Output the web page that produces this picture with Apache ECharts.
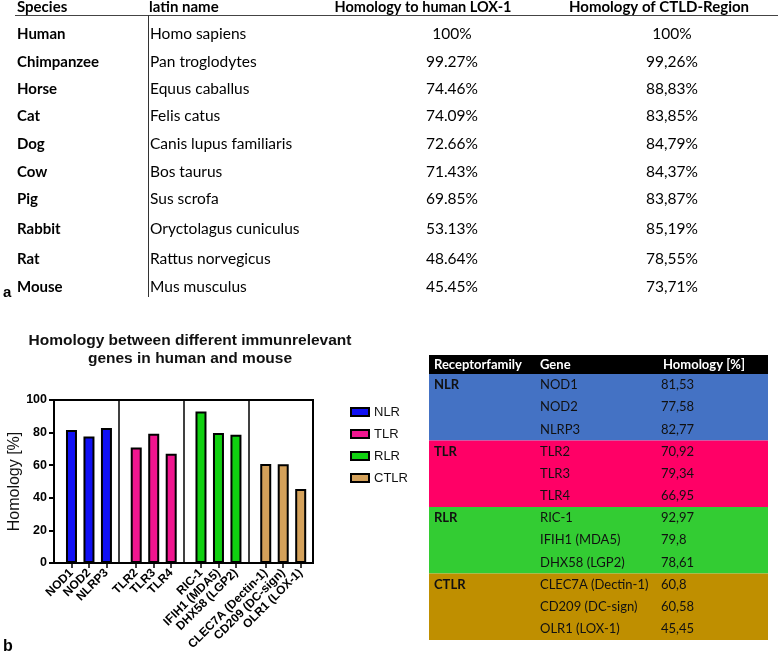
<!DOCTYPE html>
<html><head><meta charset="utf-8">
<script src="https://cdn.jsdelivr.net/npm/echarts@6/dist/echarts.min.js"></script>
<style>html,body{margin:0;padding:0;background:#fff}#c{width:778px;height:654px}</style>
</head><body><div id="c"></div><script>
// ---- Table a ----
const species = ['Human','Chimpanzee','Horse','Cat','Dog','Cow','Pig','Rabbit','Rat','Mouse'];
const latinNames = ['Homo sapiens','Pan troglodytes','Equus caballus','Felis catus','Canis lupus familiaris','Bos taurus','Sus scrofa','Oryctolagus cuniculus','Rattus norvegicus','Mus musculus'];
const homologyLOX1 = [100, 99.27, 74.46, 74.09, 72.66, 71.43, 69.85, 53.13, 48.64, 45.45];
const homologyCTLD = [100, 99.26, 88.83, 83.85, 84.79, 84.37, 83.87, 85.19, 78.55, 73.71];
const tableAHeaders = ['Species','latin name','Homology to human LOX-1','Homology of CTLD-Region'];

// ---- Chart b ----
const families = ['NLR','TLR','RLR','CTLR'];
const genes = [
  ['NOD1','NOD2','NLRP3'],
  ['TLR2','TLR3','TLR4'],
  ['RIC-1','IFIH1 (MDA5)','DHX58 (LGP2)'],
  ['CLEC7A (Dectin-1)','CD209 (DC-sign)','OLR1 (LOX-1)']
];
const homology = [
  [81.53, 77.58, 82.77],
  [70.92, 79.34, 66.95],
  [92.97, 79.8, 78.61],
  [60.8, 60.58, 45.45]
];
const yTicks = [0, 20, 40, 60, 80, 100];
const chartTitle = 'Homology between different immunrelevant\ngenes in human and mouse';
const tableBHeaders = ['Receptorfamily','Gene','Homology [%]'];

// ---- styles / layout ----
const barColors = ['#1010f5','#f0158f','#10d010','#d4a15a'];
const tableColors = ['#4472c4','#ff0066','#33cc33','#bf8f00'];
const CAL = 'Lato, "Open Sans", sans-serif';
const ARI = '"Liberation Sans", Arial, sans-serif';
const rowYA = [34, 62, 89, 116, 144, 172, 199, 229, 259, 287];
const headA = [{x:17, align:'left', size:15}, {x:149, align:'left', size:15}, {x:423, align:'center', size:14.5}, {x:569, align:'left', size:15}];
const valCenterA = [452, 672];

const fmtA = (v, sep) => v === 100 ? '100%' : v.toFixed(2).replace('.', sep) + '%';
const fmtB = v => String(v).replace('.', ',');

const graphic = [];
// table a headers
tableAHeaders.forEach((h, i) => graphic.push({type:'text', x: headA[i].x, y: 7,
  style:{text:h, font:'bold ' + headA[i].size + 'px ' + CAL, fill:'#000', align:headA[i].align, verticalAlign:'middle'}}));
graphic.push({type:'line', shape:{x1:15, y1:15.5, x2:778, y2:15.5}, style:{stroke:'#444', lineWidth:1}});
graphic.push({type:'line', shape:{x1:148.5, y1:15, x2:148.5, y2:297}, style:{stroke:'#333', lineWidth:1}});
species.forEach((s, i) => {
  const y = rowYA[i];
  graphic.push({type:'text', x: 17, y, style:{text:s, font:'bold 15px ' + CAL, fill:'#000', verticalAlign:'middle'}});
  graphic.push({type:'text', x: 150, y, style:{text:latinNames[i], font:'15.5px ' + CAL, fill:'#000', verticalAlign:'middle'}});
  graphic.push({type:'text', x: valCenterA[0], y, style:{text:fmtA(homologyLOX1[i], '.'), font:'15.5px ' + CAL, fill:'#000', align:'center', verticalAlign:'middle'}});
  graphic.push({type:'text', x: valCenterA[1], y, style:{text:fmtA(homologyCTLD[i], ','), font:'15.5px ' + CAL, fill:'#000', align:'center', verticalAlign:'middle'}});
});
graphic.push({type:'text', x: 3, y: 293, style:{text:'a', font:'bold 15px ' + ARI, fill:'#000', verticalAlign:'middle'}});
graphic.push({type:'text', x: 3, y: 647, style:{text:'b', font:'bold 16px ' + ARI, fill:'#000', verticalAlign:'middle'}});

// table b
const tbX = 429, tbW = 339, tbHeadY = 355, tbHeadH = 19, tbRowH = 22.17;
const colXB = [434, 540, 661];
graphic.push({type:'rect', shape:{x:tbX, y:tbHeadY, width:tbW, height:tbHeadH}, style:{fill:'#000'}});
tableBHeaders.forEach((h, i) => graphic.push({type:'text', x: colXB[i] + (i === 2 ? 2 : 0), y: tbHeadY + tbHeadH / 2,
  style:{text:h, font:'bold 13px ' + CAL, fill:'#fff', verticalAlign:'middle'}}));
let r = 0;
families.forEach((f, gi) => {
  const y0 = tbHeadY + tbHeadH + r * tbRowH;
  graphic.push({type:'rect', shape:{x:tbX, y:y0, width:tbW, height:tbRowH * genes[gi].length}, style:{fill:tableColors[gi]}});
  graphic.push({type:'text', x: colXB[0], y: y0 + tbRowH / 2, style:{text:f, font:'bold 13px ' + CAL, fill:'#111', verticalAlign:'middle'}});
  genes[gi].forEach((g, k) => {
    const y = tbHeadY + tbHeadH + (r + k + 0.5) * tbRowH;
    graphic.push({type:'text', x: colXB[1], y, style:{text:g, font:'13px ' + CAL, fill:'#111', verticalAlign:'middle'}});
    graphic.push({type:'text', x: colXB[2], y, style:{text:fmtB(homology[gi][k]), font:'13px ' + CAL, fill:'#111', verticalAlign:'middle'}});
  });
  r += genes[gi].length;
});

// bar positions: group index + slot offset inside group
const slot = 0.27;
const positions = [], posNames = [];
genes.forEach((gs, gi) => gs.forEach((g, k) => { positions.push(gi + (k + 1) * slot); posNames.push(g); }));
const nameAt = v => { const i = positions.findIndex(p => Math.abs(p - v) < 1e-6); return i < 0 ? '' : posNames[i]; };

const series = families.map((f, gi) => ({
  name: f, type: 'bar', xAxisIndex: 0, barWidth: 11, barGap: '-100%',
  data: homology[gi].map((v, k) => [gi + (k + 1) * slot, v]),
  itemStyle: {color: barColors[gi], borderColor: '#000', borderWidth: 2}
}));

const chart = echarts.init(document.getElementById('c'));
chart.setOption({
  animation: false,
  title: {text: chartTitle, left: 185, top: 327, textAlign: 'center',
    textStyle: {fontFamily: ARI, fontSize: 15.5, fontWeight: 'bold', color: '#111', lineHeight: 18}},
  legend: {orient: 'vertical', left: 345, top: 400, itemWidth: 18, itemHeight: 8, itemGap: 8,
    icon: 'rect', textStyle: {fontFamily: ARI, fontSize: 13, color: '#111', lineHeight: 14}},
  grid: {left: 54, right: 465, top: 400, bottom: 91, show: true, borderColor: '#000', borderWidth: 2, backgroundColor: 'transparent'},
  xAxis: [
    {type: 'value', min: 0, max: 4, splitLine: {show: false},
      axisLine: {show: true, lineStyle: {color: '#000', width: 2}},
      axisTick: {show: true, customValues: positions, length: 5, lineStyle: {color: '#000', width: 1.5}},
      axisLabel: {customValues: positions, formatter: v => nameAt(v), rotate: 45, margin: 8,
        fontFamily: ARI, fontSize: 12, fontWeight: 'bold', color: '#000'}},
    {type: 'value', min: 0, max: 4, interval: 1, position: 'bottom',
      axisLine: {show: false}, axisTick: {show: false}, axisLabel: {show: false},
      splitLine: {show: true, lineStyle: {color: '#000', width: 1.5, type: 'solid'}}}
  ],
  yAxis: {type: 'value', min: yTicks[0], max: yTicks[yTicks.length - 1], interval: yTicks[1] - yTicks[0],
    name: 'Homology [%]', nameLocation: 'middle', nameGap: 30,
    nameTextStyle: {fontFamily: ARI, fontSize: 16, color: '#111'},
    axisLine: {show: true, lineStyle: {color: '#000', width: 2}},
    axisTick: {show: true, length: 5, lineStyle: {color: '#000', width: 2}},
    axisLabel: {margin: 7, fontFamily: ARI, fontSize: 12.5, fontWeight: 'bold', color: '#000'},
    splitLine: {show: false}},
  series: series,
  graphic: graphic
});
</script></body></html>
